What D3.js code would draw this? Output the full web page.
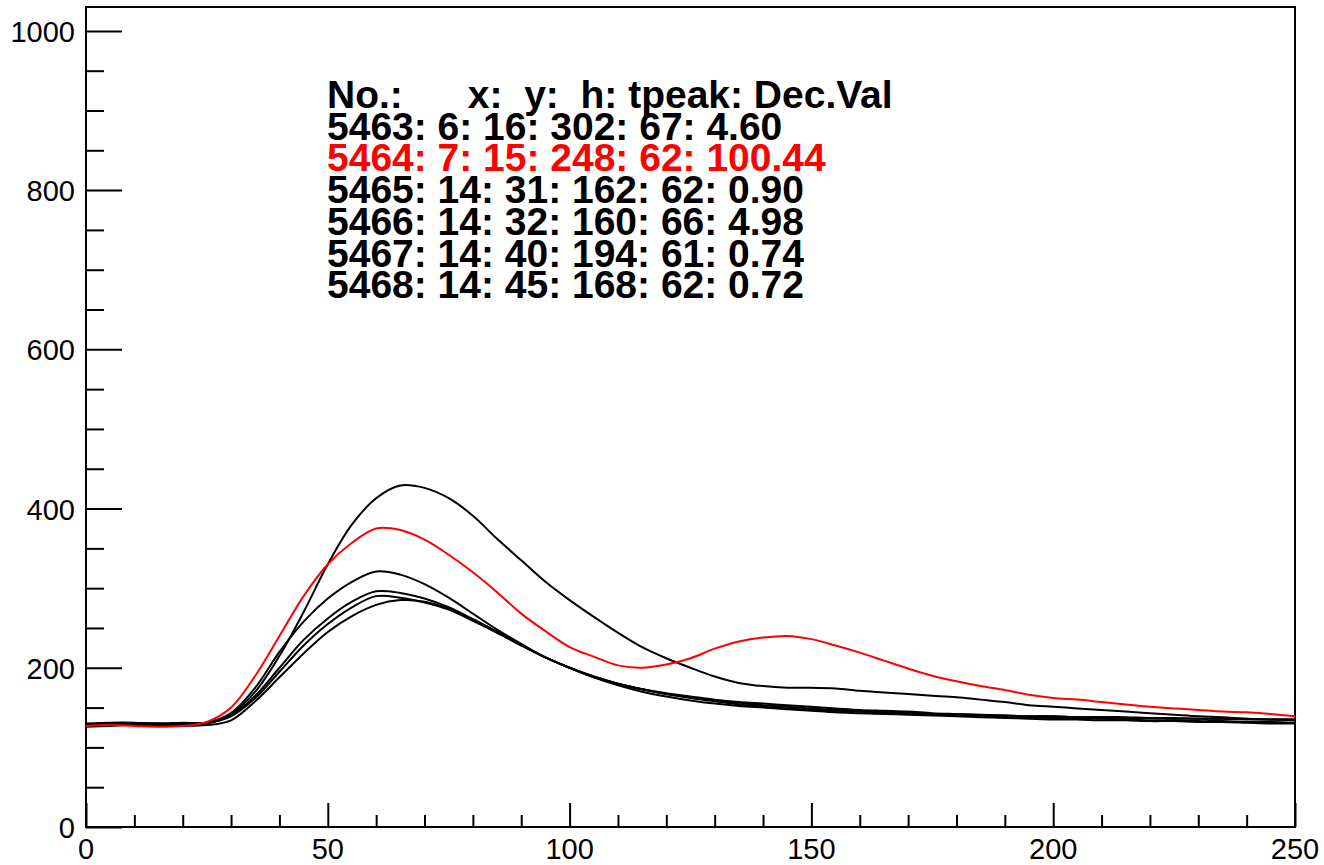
<!DOCTYPE html>
<html>
<head>
<meta charset="utf-8">
<script src="https://cdn.jsdelivr.net/npm/d3@7"></script>
<style>
html,body{margin:0;padding:0;background:#fff;}
svg{display:block;}
text{font-family:"Liberation Sans",Arial,Helvetica,sans-serif;}
</style>
</head>
<body>
<svg id="chart" width="1324" height="865"></svg>
<script>
// ---- data ----
const samples = [0,5,10,15,20,25,30,35,40,45,50,55,60,65,70,75,80,85,90,95,100,105,110,115,120,125,130,135,140,145,150,155,160,165,170,175,180,185,190,195,200,205,210,215,220,225,230,235,240,245,250];

const s5463 = [128,129,130,130,129,131,142,170,215,270,330,380,413,429,426,413,391,362,335,308,285,264,244,226,212,200,189,181,177,175,175,174,171,169,167,165,163,160,157,153,151,149,147,145,143,141,139,138,136,135,134];
const s5464 = [127,128,127,126,127,132,150,190,240,290,330,357,375,373,361,342,320,295,268,246,226,214,203,200,204,212,224,233,238,240,236,228,219,209,199,190,183,177,172,166,162,160,157,154,151,149,147,145,144,142,139];
const s5465 = [130,131,131,130,131,131,139,162,195,228,255,276,290,288,282,273,259,244,228,213,200,189,180,173,167,162,158,154,151,149,147,146,145,144,143,142,141,140,140,139,139,138,138,138,137,137,136,136,136,135,135];
const s5466 = [126,127,128,127,127,128,134,158,188,218,245,265,279,285,283,274,261,245,229,213,200,188,178,170,164,159,155,152,150,148,146,144,143,142,141,140,139,138,137,136,135,135,134,134,133,133,132,132,131,130,130];
const s5467 = [129,130,129,130,129,131,143,175,220,258,287,308,321,317,305,288,268,248,230,213,200,188,180,173,168,164,160,157,155,153,151,149,147,146,145,143,142,141,140,139,139,138,138,137,137,136,136,136,135,135,135];
const s5468 = [128,128,129,128,129,130,140,165,200,235,262,283,296,294,287,276,261,245,228,213,200,189,180,173,167,163,159,156,153,151,149,147,145,144,143,142,141,140,139,138,137,137,136,135,134,134,133,133,132,132,131];

const seriesNames = ["5463","5464","5465","5466","5467","5468"];
const seriesValues = [s5463,s5464,s5465,s5466,s5467,s5468];
const seriesColors = ["#000","#ff0000","#000","#000","#000","#000"];

const legendHeader = "No.:      x:  y:  h: tpeak: Dec.Val";
const legendLines = [
  "5463: 6: 16: 302: 67: 4.60",
  "5464: 7: 15: 248: 62: 100.44",
  "5465: 14: 31: 162: 62: 0.90",
  "5466: 14: 32: 160: 66: 4.98",
  "5467: 14: 40: 194: 61: 0.74",
  "5468: 14: 45: 168: 62: 0.72"
];

const xTicks = [0,50,100,150,200,250];
const yTicks = [0,200,400,600,800,1000];

// ---- layout ----
const L = 86, R = 1295, T = 7, B = 827;
const svg = d3.select("#chart");
const x = d3.scaleLinear().domain([0,250]).range([L,R]);
const y = d3.scaleLinear().domain([0,1030]).range([B,T]);

// frame
svg.append("rect").attr("x",L).attr("y",T).attr("width",R-L).attr("height",B-T)
  .attr("fill","none").attr("stroke","#000").attr("stroke-width",2);

// curves
const line = d3.line().x((d,i)=>x(samples[i])).y(d=>y(d)).curve(d3.curveCatmullRom.alpha(0.5));
seriesValues.forEach((vals,k)=>{
  if (k===1) return;
  svg.append("path").datum(vals).attr("d",line).attr("fill","none")
    .attr("stroke",seriesColors[k]).attr("stroke-width",2).attr("stroke-linejoin","round");
});
svg.append("path").datum(seriesValues[1]).attr("d",line).attr("fill","none")
  .attr("stroke",seriesColors[1]).attr("stroke-width",2).attr("stroke-linejoin","round");

// y axis ticks
const yMinor = d3.range(0,1001,50).filter(v=>!yTicks.includes(v));
const gy = svg.append("g").attr("transform",`translate(${L},0)`);
gy.call(d3.axisRight(y).tickValues(yTicks).tickSize(36).tickFormat(""));
gy.append("g").call(d3.axisRight(y).tickValues(yMinor).tickSize(18).tickFormat(""));
gy.selectAll(".domain").remove();
gy.selectAll("line").attr("stroke","#000").attr("stroke-width",2);
svg.append("g").selectAll("text").data(yTicks).join("text")
  .attr("x",L-11).attr("y",d=>y(d)+11).attr("text-anchor","end")
  .attr("font-size",29).attr("fill","#000").text(d=>d);

// x axis ticks
const xMinor = d3.range(0,251,10).filter(v=>!xTicks.includes(v));
const gx = svg.append("g").attr("transform",`translate(0,${B})`);
gx.call(d3.axisTop(x).tickValues(xTicks).tickSize(24).tickFormat(""));
gx.append("g").call(d3.axisTop(x).tickValues(xMinor).tickSize(12).tickFormat(""));
gx.selectAll(".domain").remove();
gx.selectAll("line").attr("stroke","#000").attr("stroke-width",2);
svg.append("g").selectAll("text").data(xTicks).join("text")
  .attr("x",d=>x(d)).attr("y",B+32).attr("text-anchor","middle")
  .attr("font-size",29).attr("fill","#000").text(d=>d);

// legend text
const lg = svg.append("g").attr("font-size",39).attr("font-weight","bold");
lg.append("text").attr("x",327).attr("y",108).attr("xml:space","preserve")
  .style("white-space","pre").attr("fill","#000").text(legendHeader);
legendLines.forEach((t,i)=>{
  lg.append("text").attr("x",327).attr("y",108+31.7*(i+1))
    .attr("fill",seriesColors[i]).text(t);
});
</script>
</body>
</html>
